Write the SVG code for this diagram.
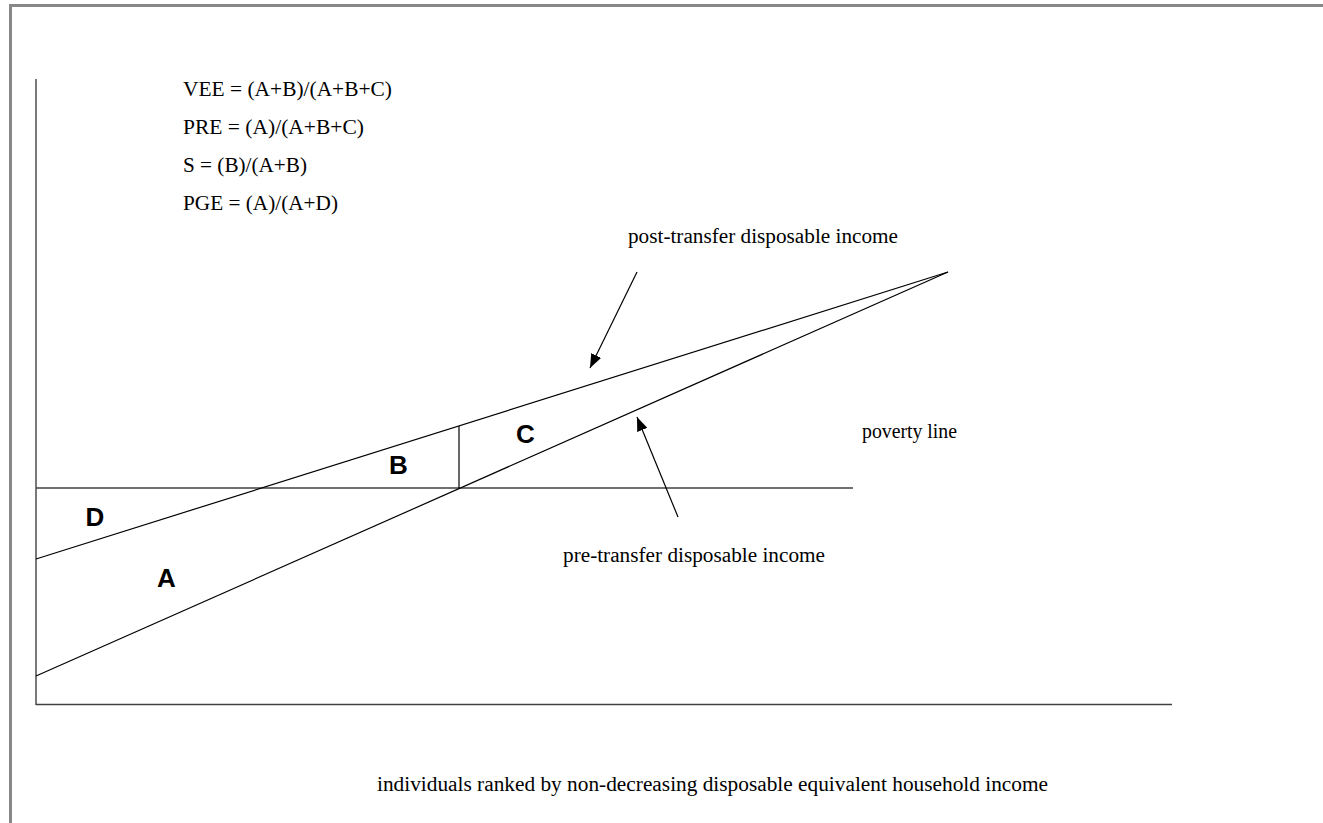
<svg xmlns="http://www.w3.org/2000/svg" width="1323" height="823" viewBox="0 0 1323 823">
<defs>
<style>
.ser{font-family:"Liberation Serif","Times New Roman",serif;font-size:20.5px;fill:#000}
.bold{font-family:"Liberation Sans",Arial,sans-serif;font-size:26px;font-weight:bold;fill:#000}
.ax{stroke:#404040;stroke-width:1.4;fill:none}
.cv{stroke:#000;stroke-width:1.2;fill:none}
.arr{stroke:#000;stroke-width:1.2;fill:none;marker-end:url(#ah)}
</style>
<marker id="ah" markerUnits="userSpaceOnUse" markerWidth="15" markerHeight="11" refX="14" refY="5.5" orient="auto">
<path d="M0,0 L14,5.5 L0,11 Z" fill="#000"/>
</marker>
</defs>
<rect width="1323" height="823" fill="#fff"/>
<path d="M10.5,823 V5.5 H1323" stroke="#888" stroke-width="3" fill="none"/>
<g id="axes">
<line class="ax" x1="36" y1="79" x2="36" y2="705"/>
<line class="ax" x1="36" y1="704.5" x2="1172" y2="704.5"/>
</g>
<g id="poverty-line">
<line class="ax" x1="36" y1="488" x2="853" y2="488"/>
<text class="ser" x="862" y="438" textLength="95" lengthAdjust="spacingAndGlyphs">poverty line</text>
</g>
<g id="curves">
<line class="cv" x1="36" y1="559" x2="948" y2="272"/>
<line class="cv" x1="36" y1="676" x2="948" y2="272"/>
<line class="cv" x1="459" y1="426" x2="459" y2="488"/>
</g>
<g id="connectors">
<line class="arr" x1="637" y1="272" x2="590" y2="368"/>
<line class="arr" x1="678" y1="517" x2="637" y2="417"/>
</g>
<g id="post-transfer-label">
<text class="ser" x="628" y="243" textLength="270" lengthAdjust="spacingAndGlyphs">post-transfer disposable income</text>
</g>
<g id="pre-transfer-label">
<text class="ser" x="563" y="562" textLength="262" lengthAdjust="spacingAndGlyphs">pre-transfer disposable income</text>
</g>
<g id="x-label">
<text class="ser" x="377" y="791" textLength="671" lengthAdjust="spacingAndGlyphs">individuals ranked by non-decreasing disposable equivalent household income</text>
</g>
<g id="formulas">
<text class="ser" x="183" y="96" textLength="209" lengthAdjust="spacingAndGlyphs">VEE = (A+B)/(A+B+C)</text>
<text class="ser" x="183" y="134" textLength="181" lengthAdjust="spacingAndGlyphs">PRE = (A)/(A+B+C)</text>
<text class="ser" x="183" y="172" textLength="124" lengthAdjust="spacingAndGlyphs">S = (B)/(A+B)</text>
<text class="ser" x="183" y="210" textLength="155" lengthAdjust="spacingAndGlyphs">PGE = (A)/(A+D)</text>
</g>
<g id="area-A"><text class="bold" x="166.5" y="587" text-anchor="middle">A</text></g>
<g id="area-B"><text class="bold" x="398.5" y="474" text-anchor="middle">B</text></g>
<g id="area-C"><text class="bold" x="525.5" y="443" text-anchor="middle">C</text></g>
<g id="area-D"><text class="bold" x="95" y="526" text-anchor="middle">D</text></g>
</svg>
